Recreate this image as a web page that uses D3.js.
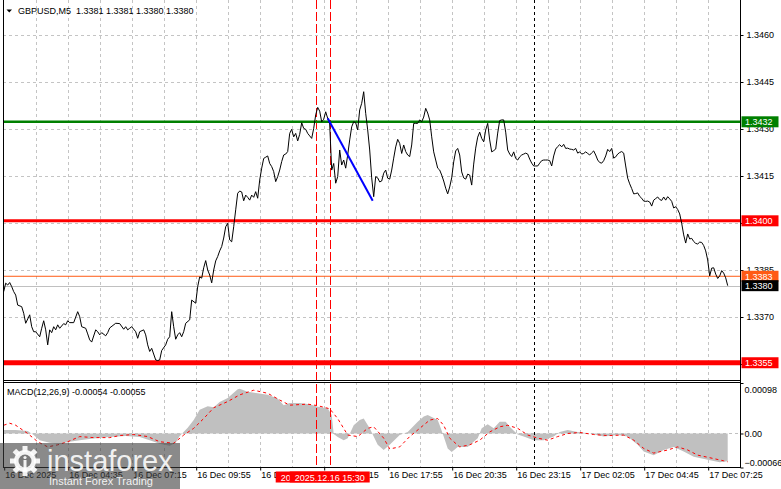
<!DOCTYPE html>
<html><head><meta charset="utf-8">
<script src="https://cdn.jsdelivr.net/npm/d3@7/dist/d3.min.js"></script>
<style>
body{margin:0;background:#fff;}
svg{display:block;}
text{font-family:"Liberation Sans",Arial,sans-serif;}
</style>
</head><body>
<svg id="chart" width="781" height="489"></svg>
<script>
// ---------------- DATA ----------------
const chartTitle = "GBPUSD,M5  1.3381 1.3381 1.3380 1.3380";
const macdTitle = "MACD(12,26,9) -0.00054 -0.00055";

// [bar index (5-minute bars), close price]
const pricePoints = [
[0,1.33781],[1,1.33808],[2,1.33802],[3,1.33810],[4,1.33797],[5,1.33781],[6,1.33770],[7,1.33738],[9,1.33733],[10,1.33712],
[11,1.33680],[13,1.33707],[14,1.33669],[15,1.33653],[16,1.33653],[18,1.33637],[19,1.33664],[20,1.33688],[21,1.33659],[22,1.33611],
[23,1.33659],[24,1.33650],[25,1.33669],[26,1.33659],[27,1.33675],[28,1.33664],[30,1.33679],[31,1.33675],[32,1.33688],[33,1.33682],
[35,1.33682],[37,1.33717],[38,1.33701],[39,1.33669],[41,1.33664],[42,1.33646],[43,1.33627],[44,1.33620],[46,1.33659],[47,1.33653],
[48,1.33643],[49,1.33650],[51,1.33640],[52,1.33650],[53,1.33665],[56,1.33680],[58,1.33679],[60,1.33661],[61,1.33669],[62,1.33659],
[63,1.33664],[64,1.33669],[66,1.33653],[67,1.33632],[68,1.33653],[70,1.33659],[71,1.33643],[72,1.33611],[73,1.33590],[74,1.33600],
[76,1.33563],[77,1.33561],[78,1.33563],[79,1.33593],[81,1.33611],[82,1.33629],[83,1.33637],[84,1.33717],[85,1.33669],[86,1.33629],
[87,1.33643],[88,1.33650],[89,1.33637],[90,1.33653],[91,1.33680],[93,1.33691],[94,1.33754],[96,1.33744],[97,1.33797],[98,1.33828],
[99,1.33824],[100,1.33857],[101,1.33880],[102,1.33850],[103,1.33834],[104,1.33809],[105,1.33850],[106,1.33879],[107,1.33893],[108,1.33911],
[109,1.33925],[110,1.33952],[111,1.33988],[112,1.33999],[113,1.33946],[114,1.33940],[115,1.33988],[116,1.34042],[117,1.34095],[118,1.34102],
[119,1.34099],[120,1.34071],[121,1.34089],[122,1.34082],[123,1.34073],[124,1.34089],[125,1.34082],[126,1.34100],[127,1.34079],[128,1.34137],
[129,1.34175],[130,1.34206],[131,1.34210],[132,1.34214],[133,1.34190],[134,1.34180],[135,1.34164],[136,1.34132],[137,1.34148],[138,1.34169],
[139,1.34196],[140,1.34217],[141,1.34220],[142,1.34228],[143,1.34286],[144,1.34299],[145,1.34275],[146,1.34286],[147,1.34262],[148,1.34283],
[149,1.34320],[150,1.34302],[151,1.34299],[152,1.34286],[153,1.34278],[154,1.34270],[155,1.34302],[156,1.34345],[157,1.34369],[158,1.34357],
[159,1.34323],[160,1.34331],[161,1.34355],[162,1.34334],[163,1.34316],[164,1.34169],[165,1.34190],[166,1.34127],[167,1.34148],[168,1.34233],
[169,1.34185],[170,1.34201],[171,1.34175],[172,1.34217],[173,1.34265],[174,1.34307],[175,1.34323],[176,1.34320],[177,1.34297],[178,1.34361],
[179,1.34382],[180,1.34419],[181,1.34350],[182,1.34297],[183,1.34233],[184,1.34144],[185,1.34084],[186,1.34148],[187,1.34144],[188,1.34131],
[189,1.34134],[190,1.34159],[191,1.34169],[192,1.34143],[193,1.34140],[194,1.34169],[195,1.34207],[196,1.34243],[197,1.34267],[198,1.34254],
[199,1.34222],[200,1.34249],[201,1.34228],[202,1.34217],[203,1.34212],[204,1.34249],[205,1.34318],[206,1.34318],[207,1.34318],[208,1.34329],
[209,1.34323],[210,1.34338],[211,1.34366],[212,1.34351],[213,1.34329],[214,1.34275],[215,1.34227],[216,1.34201],[217,1.34175],[218,1.34169],
[219,1.34153],[220,1.34134],[221,1.34111],[222,1.34093],[223,1.34115],[224,1.34144],[225,1.34195],[226,1.34230],[227,1.34238],[228,1.34217],
[229,1.34163],[230,1.34144],[231,1.34140],[232,1.34156],[233,1.34153],[234,1.34121],[235,1.34188],[236,1.34239],[237,1.34274],[238,1.34290],
[239,1.34270],[240,1.34259],[241,1.34297],[242,1.34318],[243,1.34265],[244,1.34227],[245,1.34231],[246,1.34236],[247,1.34287],[248,1.34327],
[249,1.34329],[250,1.34329],[251,1.34290],[252,1.34233],[253,1.34220],[254,1.34212],[255,1.34227],[256,1.34206],[257,1.34201],[258,1.34211],
[259,1.34217],[260,1.34220],[261,1.34223],[262,1.34220],[263,1.34204],[264,1.34191],[265,1.34182],[266,1.34182],[267,1.34182],[268,1.34191],
[269,1.34199],[270,1.34201],[271,1.34201],[272,1.34201],[273,1.34199],[274,1.34182],[275,1.34214],[276,1.34236],[277,1.34244],[278,1.34250],
[279,1.34243],[280,1.34251],[281,1.34238],[282,1.34239],[283,1.34236],[284,1.34235],[285,1.34233],[286,1.34238],[287,1.34223],[288,1.34227],
[289,1.34220],[290,1.34222],[291,1.34227],[292,1.34222],[293,1.34217],[294,1.34224],[295,1.34230],[296,1.34217],[297,1.34201],[298,1.34193],
[299,1.34191],[300,1.34199],[301,1.34214],[302,1.34235],[303,1.34228],[304,1.34238],[305,1.34207],[306,1.34211],[307,1.34220],[308,1.34225],
[309,1.34228],[310,1.34223],[311,1.34182],[312,1.34143],[313,1.34125],[314,1.34110],[315,1.34093],[316,1.34094],[317,1.34096],[318,1.34085],
[319,1.34079],[320,1.34070],[321,1.34069],[322,1.34070],[323,1.34067],[324,1.34054],[325,1.34073],[326,1.34078],[327,1.34083],[328,1.34075],
[329,1.34072],[330,1.34083],[331,1.34073],[332,1.34084],[333,1.34077],[334,1.34069],[335,1.34048],[336,1.34052],[337,1.34043],[338,1.34029],
[339,1.33999],[340,1.33962],[341,1.33936],[342,1.33965],[343,1.33949],[344,1.33951],[345,1.33941],[346,1.33935],[347,1.33933],[348,1.33939],
[349,1.33938],[350,1.33928],[351,1.33911],[352,1.33882],[353,1.33831],[354,1.33856],[355,1.33857],[356,1.33837],[357,1.33823],[358,1.33831],
[359,1.33848],[360,1.33840],[361,1.33825],[362,1.33800]
];

// MACD main (histogram) [bar, value]
const macdPoints = [
[0,0.00007],[6,0.00007],[12,0.00005],[15,-0.00003],[18,-0.00013],[23,-0.00018],[28,-0.00020],[33,-0.00016],[38,-0.00013],[46,-0.00009],
[53,-0.00007],[61,-0.00005],[68,-0.00007],[73,-0.00013],[78,-0.00020],[83,-0.00024],[86,-0.00018],[88,-0.00005],[92,0.00011],[95,0.00026],
[98,0.00046],[102,0.00053],[105,0.00051],[108,0.00061],[112,0.00069],[115,0.00079],[117,0.00086],[118,0.00087],[122,0.00081],[127,0.00078],
[132,0.00075],[137,0.00068],[140,0.00055],[143,0.00059],[148,0.00059],[153,0.00057],[157,0.00052],[162,0.00049],[164,0.00036],[165,-0.00001],
[167,-0.00007],[170,-0.00013],[172,-0.00009],[175,0.00016],[178,0.00026],[180,0.00029],[183,0.00010],[187,-0.00022],[190,-0.00032],[193,-0.00022],
[198,-0.00003],[202,0.00003],[207,0.00023],[210,0.00033],[212,0.00036],[217,0.00026],[218,0.00016],[220,-0.00006],[222,-0.00029],[224,-0.00036],
[227,-0.00026],[232,-0.00026],[237,-0.00009],[239,0.00010],[242,0.00018],[245,0.00010],[248,0.00023],[251,0.00023],[253,0.00013],[257,-0.00002],
[260,-0.00006],[265,-0.00013],[270,-0.00013],[275,-0.00006],[278,0.00003],[282,0.00007],[287,0.00003],[293,0.00000],[300,-0.00006],[307,-0.00003],
[312,-0.00006],[317,-0.00022],[320,-0.00035],[325,-0.00042],[330,-0.00032],[335,-0.00026],[340,-0.00035],[345,-0.00045],[352,-0.00051],[358,-0.00056],
[362,-0.00054]
];

// MACD signal [bar, value]
const signalPoints = [
[0,0.00016],[3,0.00020],[6,0.00016],[12,0.00000],[17,-0.00016],[22,-0.00026],[27,-0.00022],[32,-0.00016],[38,-0.00006],[45,-0.00008],
[53,-0.00008],[58,-0.00004],[65,-0.00002],[72,-0.00006],[78,-0.00016],[85,-0.00019],[90,-0.00003],[95,0.00010],[100,0.00029],[105,0.00050],
[112,0.00062],[118,0.00075],[125,0.00084],[132,0.00078],[138,0.00065],[143,0.00055],[152,0.00057],[157,0.00054],[163,0.00048],[167,0.00029],
[172,-0.00003],[177,-0.00006],[182,0.00010],[185,0.00013],[190,-0.00009],[193,-0.00030],[198,-0.00026],[203,-0.00006],[208,0.00010],[213,0.00026],
[217,0.00029],[220,0.00016],[223,-0.00009],[228,-0.00026],[233,-0.00022],[238,-0.00013],[243,0.00003],[248,0.00013],[252,0.00016],[257,0.00010],
[262,-0.00003],[267,-0.00009],[272,-0.00013],[277,-0.00006],[282,0.00000],[288,0.00002],[295,-0.00002],[302,-0.00004],[310,-0.00003],[315,-0.00013],
[320,-0.00029],[325,-0.00038],[332,-0.00032],[337,-0.00026],[342,-0.00032],[347,-0.00042],[353,-0.00047],[360,-0.00053],[362,-0.00055]
];

const priceTicks = [1.3460, 1.3445, 1.3430, 1.3415, 1.3400, 1.3385, 1.3370, 1.3355];
const macdTicks = [0.00098, 0, -0.00066];
const timeLabels = ["16 Dec 2025","16 Dec 04:35","16 Dec 07:15","16 Dec 09:55","16 Dec 12:35","16 Dec 15:15",
                    "16 Dec 17:55","16 Dec 20:35","16 Dec 23:15","17 Dec 02:05","17 Dec 04:45","17 Dec 07:25"];
const timeLabelBars = [0,32,64,96,128,160,192,224,256,288,320,352];

// horizontal levels
const levelValues = [1.34323, 1.34007, 1.33830, 1.33554];
const levelLabels = ["1.3432", "1.3400", "1.3383", "1.3355"];
const levelColors = ["#008000", "#ff0000", "#ff5a14", "#ff0000"];
const levelWidths = [2.5, 3, 1, 5];
const bidValue = 1.3380, bidLabel = "1.3380";

// vertical markers
const vMarkBars = [156, 163];
const vMarkLabels = ["2025.12.16 15:20", "2025.12.16 15:30"];
const cursorBar = 265;
const trendBars = [162, 184.5];
const trendValues = [1.34334, 1.34071];

// ---------------- LAYOUT ----------------
const svg = d3.select("#chart");
const L = 3, R = 740, mainTop = 0, mainBot = 380, macdTop = 382, macdBot = 467.5;
const x = d3.scaleLinear().domain([0, 368]).range([3.7, 3.7 + 2 * 368]);
const yP = d3.scaleLinear().domain([1.3355, 1.3460]).range([364, 35]);
const yM = d3.scaleLinear().domain([-0.00066, 0.00098]).range([467.5, 383]);
const gridColor = "#c4c4c4";
const FONT = "'Liberation Sans',Arial,sans-serif";

svg.append("rect").attr("width", 781).attr("height", 489).attr("fill", "#fff");

// vertical grid
const gridBars = d3.range(16, 360, 16);
const grid = svg.append("g").attr("stroke", gridColor).attr("stroke-dasharray", "3,3").attr("shape-rendering", "crispEdges");
grid.selectAll(".vm").data(gridBars).join("line")
  .attr("x1", d => Math.round(x(d)) + 0.5).attr("x2", d => Math.round(x(d)) + 0.5)
  .attr("y1", mainTop).attr("y2", mainBot);
grid.selectAll(".vd").data(gridBars).join("line")
  .attr("x1", d => Math.round(x(d)) + 0.5).attr("x2", d => Math.round(x(d)) + 0.5)
  .attr("y1", macdTop).attr("y2", macdBot);
// horizontal grid
grid.selectAll(".h").data(priceTicks).join("line")
  .attr("x1", L).attr("x2", R)
  .attr("y1", d => Math.round(yP(d)) + 0.5).attr("y2", d => Math.round(yP(d)) + 0.5);
// macd zero level
svg.append("line").attr("x1", L).attr("x2", R)
  .attr("y1", Math.round(yM(0)) + 0.5).attr("y2", Math.round(yM(0)) + 0.5)
  .attr("stroke", "#c0c0c0").attr("stroke-dasharray", "3,3").attr("shape-rendering", "crispEdges");

// MACD histogram
const area = d3.area().x(d => x(d[0])).y0(yM(0)).y1(d => yM(d[1]));
svg.append("path").datum(macdPoints).attr("d", area).attr("fill", "#c0c0c0");
// signal
svg.append("path").datum(signalPoints)
  .attr("d", d3.line().x(d => x(d[0])).y(d => yM(d[1])))
  .attr("fill", "none").attr("stroke", "#ff0000").attr("stroke-width", 1).attr("stroke-dasharray", "3,3");

// vertical marker lines
svg.selectAll(".vmark").data(vMarkBars).join("line")
  .attr("x1", d => Math.round(x(d)) + 0.5).attr("x2", d => Math.round(x(d)) + 0.5)
  .attr("y1", mainTop).attr("y2", macdBot)
  .attr("stroke", "#ff0000").attr("stroke-dasharray", "9,3").attr("shape-rendering", "crispEdges");
svg.append("line")
  .attr("x1", Math.round(x(cursorBar)) + 0.5).attr("x2", Math.round(x(cursorBar)) + 0.5)
  .attr("y1", mainTop).attr("y2", macdBot)
  .attr("stroke", "#000").attr("stroke-dasharray", "3,3").attr("shape-rendering", "crispEdges");

// horizontal levels
svg.append("line").attr("x1", L).attr("x2", R)
  .attr("y1", Math.round(yP(bidValue)) + 0.5).attr("y2", Math.round(yP(bidValue)) + 0.5)
  .attr("stroke", "#c0c0c0").attr("shape-rendering", "crispEdges");
levelValues.forEach((v, i) => {
  svg.append("line").attr("x1", L).attr("x2", R)
    .attr("y1", yP(v)).attr("y2", yP(v))
    .attr("stroke", levelColors[i]).attr("stroke-width", levelWidths[i]);
});

// price line
svg.append("path").datum(pricePoints)
  .attr("d", d3.line().x(d => x(d[0])).y(d => yP(d[1])))
  .attr("fill", "none").attr("stroke", "#000").attr("stroke-width", 1);

// trend line (blue)
svg.append("path").datum(trendBars.map((b, i) => [b, trendValues[i]]))
  .attr("d", d3.line().x(d => x(d[0])).y(d => yP(d[1])))
  .attr("stroke", "#0000ff").attr("stroke-width", 2).attr("fill", "none");

// frames
const frame = svg.append("g").attr("stroke", "#000").attr("shape-rendering", "crispEdges");
frame.append("line").attr("x1", L + 0.5).attr("x2", L + 0.5).attr("y1", 0).attr("y2", macdBot);
frame.append("line").attr("x1", R + 0.5).attr("x2", R + 0.5).attr("y1", 0).attr("y2", macdBot);
frame.append("line").attr("x1", L).attr("x2", R).attr("y1", mainBot + 0.5).attr("y2", mainBot + 0.5);
frame.append("line").attr("x1", L).attr("x2", R).attr("y1", macdTop + 0.5).attr("y2", macdTop + 0.5);
frame.append("line").attr("x1", L).attr("x2", R + 1).attr("y1", macdBot).attr("y2", macdBot);

// price axis
const pAxis = svg.append("g").attr("transform", `translate(${R + 0.5},0)`)
  .call(d3.axisRight(yP).tickValues(priceTicks).tickSize(3).tickPadding(3).tickFormat(d3.format(".4f")));
pAxis.select(".domain").remove();
pAxis.selectAll("text").attr("font-size", 9).attr("fill", "#000").style("font-family", FONT);
pAxis.selectAll("line").attr("stroke", "#000");

// macd axis
const mAxis = svg.append("g").attr("transform", `translate(${R + 0.5},0)`)
  .call(d3.axisRight(yM).tickValues(macdTicks).tickSize(3).tickPadding(1)
        .tickFormat(d => d === 0 ? "0.00" : d3.format(".5f")(d)));
mAxis.select(".domain").remove();
mAxis.selectAll("text").attr("font-size", 9).attr("fill", "#000").style("font-family", FONT)
  .attr("dy", (d) => d === macdTicks[0] ? "1.1em" : d === macdTicks[2] ? "-0.25em" : "0.32em");
mAxis.selectAll("line").attr("stroke", "#000");

// label boxes on price axis
function axisBox(v, txt, col) {
  const yy = yP(v);
  svg.append("rect").attr("x", R + 1.5).attr("y", yy - 5.5).attr("width", 37).attr("height", 11).attr("fill", col);
  svg.append("text").attr("x", R + 5).attr("y", yy + 3.3).attr("font-size", 9).attr("fill", "#fff").text(txt);
}
levelValues.forEach((v, i) => axisBox(v, levelLabels[i], levelColors[i]));
axisBox(bidValue, bidLabel, "#000");

// time axis
const tAxis = svg.append("g").attr("transform", `translate(0,${macdBot})`)
  .call(d3.axisBottom(x).tickValues(timeLabelBars).tickSize(3).tickFormat((d, i) => timeLabels[i]));
tAxis.select(".domain").remove();
tAxis.selectAll("line").attr("stroke", "#000").attr("transform", "translate(0.5,0)");
tAxis.selectAll("text").attr("font-size", 9).attr("fill", "#000").attr("text-anchor", "start")
  .attr("x", 1).attr("y", 4).attr("dy", "0.71em").style("font-family", FONT);

// red time boxes for marker lines
vMarkBars.forEach((b, i) => {
  const cx = x(b);
  svg.append("rect").attr("x", cx - 40).attr("y", 471.5).attr("width", 80).attr("height", 11).attr("fill", "#ff0000");
  svg.append("text").attr("x", cx).attr("y", 480.5).attr("text-anchor", "middle").attr("font-size", 9)
    .attr("fill", "#fff").text(vMarkLabels[i]);
});

// titles
svg.append("path").attr("d", "M6.5,9.5 L12,9.5 L9.25,12.5 Z").attr("fill", "#000");
svg.append("text").attr("x", 18).attr("y", 14).attr("font-size", 9).style("white-space", "pre").text(chartTitle);
svg.append("text").attr("x", 7).attr("y", 395).attr("font-size", 9).text(macdTitle);

// watermark
const wm = svg.append("g");
wm.append("rect").attr("x", 0).attr("y", 443).attr("width", 180).attr("height", 46).attr("fill", "rgba(60,60,60,0.6)");
const gear = wm.append("g").attr("transform", "translate(25,461)").attr("fill", "rgba(255,255,255,0.9)");
d3.range(8).forEach(k => {
  gear.append("rect").attr("x", -2.5).attr("y", -15).attr("width", 5).attr("height", 6)
    .attr("transform", `rotate(${k * 45})`);
});
gear.append("circle").attr("r", 11);
gear.append("circle").attr("r", 6.5).attr("fill", "#7a7a7a");
gear.append("circle").attr("cy", -3.5).attr("r", 1.6);
gear.append("rect").attr("x", -1.5).attr("y", -1).attr("width", 3).attr("height", 12);
wm.append("text").attr("x", 47).attr("y", 471).attr("font-size", 29).attr("fill", "rgba(255,255,255,0.9)").text("instaforex");
wm.append("text").attr("x", 49).attr("y", 485).attr("font-size", 11).attr("fill", "rgba(255,255,255,0.9)").text("Instant Forex Trading");
</script>
</body></html>
